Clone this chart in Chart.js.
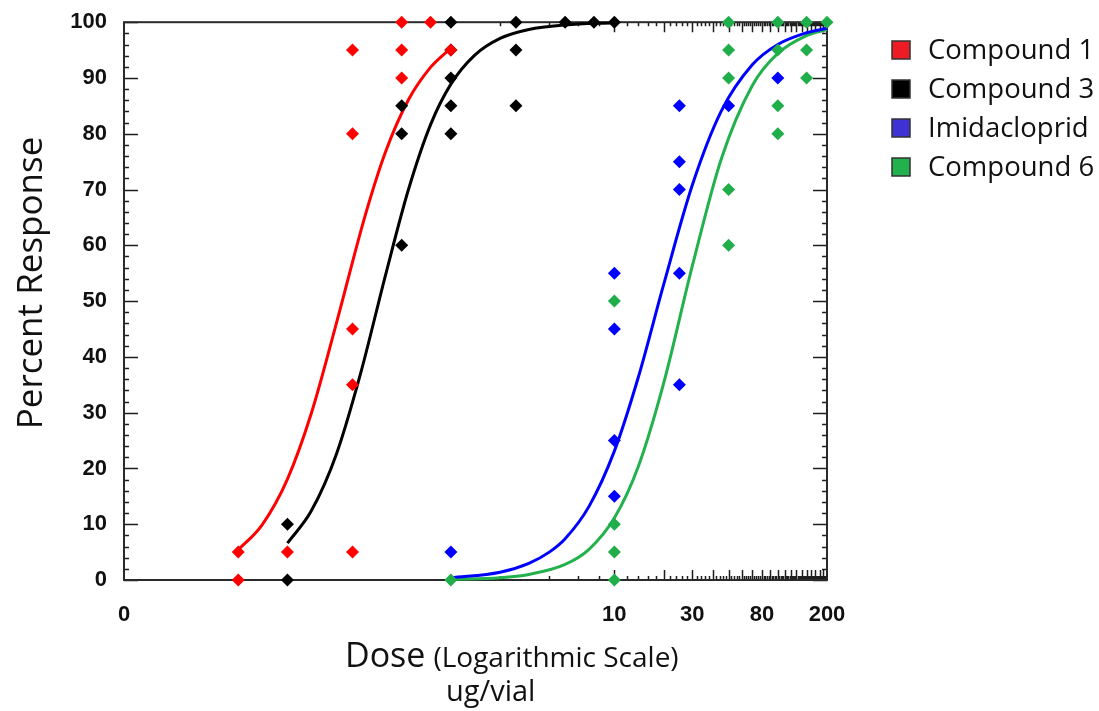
<!DOCTYPE html>
<html>
<head>
<meta charset="utf-8">
<title>Dose response</title>
<script src="https://cdn.jsdelivr.net/npm/chart.js@4.4.1/dist/chart.umd.min.js"></script>
<style>
  html, body { margin: 0; padding: 0; background: #fff; overflow: hidden; }
  #wrap { position: relative; width: 1099px; height: 711px; }
</style>
</head>
<body>
<div id="wrap"><canvas id="c" width="1099" height="711"></canvas></div>
<script>
// Observed responses (%) at each dose (ug/vial)
const compound1Dose = [0.05, 0.05, 0.1, 0.25, 0.25, 0.25, 0.25, 0.25, 0.5, 0.5, 0.5, 0.75, 1];
const compound1Resp = [0, 5, 5, 5, 35, 45, 80, 95, 90, 95, 100, 100, 95];
const compound3Dose = [0.1, 0.1, 0.5, 0.5, 0.5, 1, 1, 1, 1, 1, 2.5, 2.5, 2.5, 5, 7.5, 10];
const compound3Resp = [0, 10, 60, 80, 85, 80, 85, 90, 95, 100, 85, 95, 100, 100, 100, 100];
const imidaclopridDose = [1, 10, 10, 10, 10, 25, 25, 25, 25, 25, 50, 100];
const imidaclopridResp = [5, 15, 25, 45, 55, 35, 55, 70, 75, 85, 85, 90];
const compound6Dose = [1, 10, 10, 10, 10, 50, 50, 50, 50, 50, 100, 100, 100, 100, 150, 150, 150, 200];
const compound6Resp = [0, 0, 5, 10, 50, 60, 70, 90, 95, 100, 80, 85, 95, 100, 90, 95, 100, 100];

// Fitted dose-response curves
const fit1Dose = [0.05, 0.07, 0.1, 0.14, 0.2, 0.3, 0.4, 0.55, 0.75, 0.95];
const fit1Resp = [5.4, 9.9, 18.1, 29.9, 46.2, 65.5, 76.9, 86.1, 91.9, 94.8];
const fit3Dose = [0.1, 0.14, 0.2, 0.28, 0.4, 0.55, 0.75, 1, 1.4, 2, 3, 5, 10];
const fit3Resp = [6.6, 12.4, 22.7, 37.0, 54.9, 70.0, 81.6, 88.9, 94.1, 97.1, 98.7, 99.5, 99.9];
const fitImiDose = [1, 2, 3, 4, 5, 7, 10, 14, 20, 30, 45, 70, 100, 150, 200];
const fitImiResp = [0.4, 1.4, 3.0, 5.0, 7.4, 13.2, 23.1, 36.3, 52.9, 70.8, 84.0, 92.4, 96.0, 98.1, 98.9];
const fit6Dose = [1, 2, 3, 5, 7, 10, 14, 20, 30, 45, 70, 100, 150, 200];
const fit6Resp = [0.1, 0.4, 1.0, 2.8, 5.5, 11.1, 20.3, 35.2, 56.3, 75.4, 88.7, 94.4, 97.6, 98.7];

// Series names and colours
const seriesNames = ['Compound 1', 'Compound 3', 'Imidacloprid', 'Compound 6'];
const lineColors = ['#ff0000', '#000000', '#0000ff', '#22b14c'];
const markerColors = ['#ff0000', '#000000', '#0000ff', '#1fae4a'];
const swatchColors = ['#ed1c24', '#000000', '#3f32d2', '#22b14c'];

// Axis ticks
const xRange = [0.01, 200];
const xLabelValues = [0.01, 10, 30, 80, 200];
const xLabelText = ['0', '10', '30', '80', '200'];
const yRange = [0, 100];
const yLabelStep = 10;
const yMinorStep = 2;
const xMinorStep = 2;

const pts = (xs, ys) => xs.map((v, i) => ({ x: v, y: ys[i] }));

const markerSets = [
  pts(compound1Dose, compound1Resp),
  pts(compound3Dose, compound3Resp),
  pts(imidaclopridDose, imidaclopridResp),
  pts(compound6Dose, compound6Resp)
];
const curveSets = [
  pts(fit1Dose, fit1Resp),
  pts(fit3Dose, fit3Resp),
  pts(fitImiDose, fitImiResp),
  pts(fit6Dose, fit6Resp)
];

const datasets = [];
markerSets.forEach((data, i) => {
  datasets.push({
    label: seriesNames[i],
    data,
    order: 0,
    showLine: false,
    pointStyle: 'rectRot',
    pointRadius: 6.5,
    pointHoverRadius: 6.5,
    pointBorderWidth: 0,
    pointBackgroundColor: markerColors[i],
    clip: false
  });
});
curveSets.forEach((data, i) => {
  datasets.push({
    label: seriesNames[i] + ' fit',
    data,
    order: 1,
    showLine: true,
    borderColor: lineColors[i],
    borderWidth: 3,
    pointRadius: 0,
    cubicInterpolationMode: 'monotone',
    clip: false
  });
});

// Frame with inward tick marks on all four sides
const frameTicks = {
  id: 'frameTicks',
  beforeDatasetsDraw(chart) {
    const { ctx, chartArea: a, scales: { x, y } } = chart;
    ctx.save();
    ctx.strokeStyle = '#1e1e1e';
    ctx.lineWidth = 1.5;
    ctx.beginPath();
    x.ticks.forEach(t => {
      if (t.value <= x.min || t.value >= x.max) return;
      const px = Math.round(x.getPixelForValue(t.value)) + 0.5;
      const len = t.value % 10 === 0 ? 10 : 4;
      ctx.moveTo(px, a.bottom); ctx.lineTo(px, a.bottom - len);
      ctx.moveTo(px, a.top); ctx.lineTo(px, a.top + len);
    });
    y.ticks.forEach(t => {
      const py = Math.round(y.getPixelForValue(t.value)) + 0.5;
      const len = t.value % yLabelStep === 0 ? 14 : 5;
      ctx.moveTo(a.left, py); ctx.lineTo(a.left + len, py);
      ctx.moveTo(a.right, py); ctx.lineTo(a.right - len, py);
    });
    ctx.stroke();
    ctx.lineWidth = 2;
    ctx.strokeStyle = '#2a2a2a';
    ctx.strokeRect(a.left, a.top, a.right - a.left, a.bottom - a.top);
    ctx.restore();
  }
};

// Axis titles and the series key at the right
const annotations = {
  id: 'annotations',
  afterDraw(chart) {
    const ctx = chart.ctx;
    ctx.save();
    ctx.fillStyle = '#111';
    ctx.textBaseline = 'alphabetic';
    ctx.textAlign = 'left';

    // x title
    ctx.font = '34px "Open Sans"';
    ctx.fillText('Dose', 345, 667);
    const w = ctx.measureText('Dose').width;
    ctx.font = '28px "Open Sans"';
    ctx.fillText('(Logarithmic Scale)', 345 + w + 8, 667);
    ctx.font = '29px "Open Sans"';
    ctx.fillText('ug/vial', 446, 701);

    // y title
    ctx.save();
    ctx.translate(42, 283);
    ctx.rotate(-Math.PI / 2);
    ctx.textAlign = 'center';
    ctx.font = '35px "Open Sans"';
    ctx.fillText('Percent Response', 0, 0);
    ctx.restore();

    // key
    ctx.font = '27.5px "Open Sans"';
    ctx.textBaseline = 'middle';
    seriesNames.forEach((name, i) => {
      const cy = 50 + i * 39;
      ctx.fillStyle = swatchColors[i];
      ctx.fillRect(892, cy - 9, 18, 18);
      ctx.strokeStyle = '#333';
      ctx.lineWidth = 1.5;
      ctx.strokeRect(892, cy - 9, 18, 18);
      ctx.fillStyle = '#111';
      ctx.fillText(name, 928, cy + 1);
    });
    ctx.restore();
  }
};

const tickFont = { family: '"Liberation Sans", Arial, sans-serif', size: 22, weight: 'bold' };

new Chart(document.getElementById('c'), {
  type: 'scatter',
  data: { datasets },
  options: {
    responsive: false,
    animation: false,
    devicePixelRatio: 1,
    layout: { padding: { left: 0, top: 19, right: 272, bottom: 0 } },
    plugins: { legend: { display: false }, tooltip: { enabled: false } },
    scales: {
      x: {
        type: 'logarithmic',
        min: xRange[0],
        max: xRange[1],
        grid: { display: false },
        border: { display: false },
        afterBuildTicks(scale) {
          const vals = [xRange[0]];
          for (let v = xMinorStep; v <= xRange[1]; v += xMinorStep) vals.push(v);
          scale.ticks = vals.map(v => ({ value: v }));
        },
        afterFit(scale) { scale.height = 131; },
        ticks: {
          autoSkip: false,
          maxRotation: 0,
          padding: 14,
          color: '#111',
          font: tickFont,
          callback(value) {
            const k = xLabelValues.indexOf(value);
            return k >= 0 ? xLabelText[k] : '';
          }
        }
      },
      y: {
        min: yRange[0],
        max: yRange[1],
        grid: { display: false },
        border: { display: false },
        afterBuildTicks(scale) {
          const vals = [];
          for (let v = yRange[0]; v <= yRange[1]; v += yMinorStep) vals.push({ value: v });
          scale.ticks = vals;
        },
        afterFit(scale) { scale.width = 124; },
        ticks: {
          autoSkip: false,
          padding: 9,
          color: '#111',
          font: tickFont,
          callback(value) { return value % yLabelStep === 0 ? String(value) : ''; }
        }
      }
    }
  },
  plugins: [frameTicks, annotations]
});
</script>
</body>
</html>
